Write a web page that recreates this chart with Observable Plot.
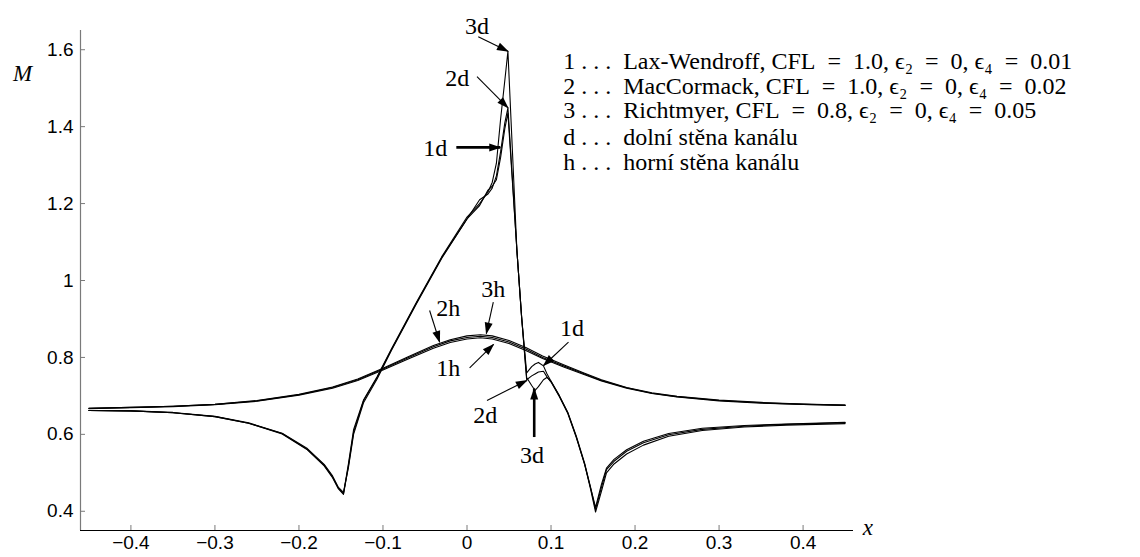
<!DOCTYPE html>
<html><head><meta charset="utf-8">
<script src="https://cdn.jsdelivr.net/npm/d3@7"></script>
<script src="https://cdn.jsdelivr.net/npm/@observablehq/plot@0.6"></script>
<style>body{margin:0;background:#fff}#chart{width:1140px;height:557px}</style>
</head><body><div id="chart"></div>
<script>
// ---- lower wall (d) curves: x grid and Mach values for schemes 1,2,3
const xD = [-0.45,-0.40,-0.35,-0.30,-0.26,-0.22,-0.19,-0.17,-0.16,-0.153,-0.147,-0.141,-0.135,-0.123,-0.107,-0.09,-0.06,-0.03,0.0,0.015,0.025,0.03,0.035,0.04,0.045,0.0487,0.0594,0.065,0.071,0.077,0.081,0.085,0.091,0.095,0.10,0.11,0.12,0.13,0.14,0.147,0.153,0.16,0.166,0.175,0.19,0.21,0.24,0.28,0.33,0.38,0.45];
const mD1 = [0.662,0.661,0.656,0.646,0.629,0.601,0.560,0.518,0.487,0.458,0.444,0.520,0.605,0.688,0.748,0.820,0.942,1.060,1.160,1.195,1.235,1.245,1.262,1.320,1.395,1.435,1.078,0.905,0.760,0.776,0.783,0.787,0.778,0.758,0.738,0.700,0.656,0.594,0.522,0.458,0.398,0.452,0.500,0.523,0.549,0.572,0.595,0.610,0.619,0.624,0.628];
const mD2 = [0.662,0.661,0.657,0.647,0.630,0.603,0.563,0.522,0.492,0.462,0.449,0.515,0.600,0.683,0.744,0.818,0.940,1.058,1.160,1.210,1.225,1.240,1.272,1.335,1.410,1.449,1.078,0.905,0.742,0.752,0.757,0.762,0.764,0.750,0.736,0.698,0.654,0.592,0.522,0.462,0.410,0.470,0.512,0.535,0.560,0.582,0.602,0.616,0.623,0.627,0.631];
const mD3 = [0.662,0.661,0.656,0.646,0.629,0.602,0.561,0.520,0.489,0.460,0.446,0.525,0.612,0.690,0.750,0.822,0.944,1.062,1.165,1.200,1.230,1.255,1.305,1.420,1.520,1.596,1.078,0.905,0.748,0.727,0.714,0.724,0.742,0.748,0.738,0.700,0.657,0.596,0.525,0.462,0.405,0.462,0.508,0.530,0.556,0.578,0.599,0.613,0.621,0.626,0.630];

// ---- upper wall (h) curves
const xH = [-0.45,-0.40,-0.35,-0.30,-0.25,-0.20,-0.16,-0.13,-0.10,-0.07,-0.04,-0.02,0.0,0.016,0.03,0.05,0.07,0.09,0.115,0.14,0.16,0.19,0.22,0.25,0.30,0.35,0.40,0.45];
const mH1 = [0.667,0.669,0.672,0.677,0.686,0.702,0.720,0.740,0.767,0.796,0.824,0.839,0.848,0.851,0.848,0.836,0.818,0.797,0.775,0.755,0.739,0.720,0.706,0.697,0.687,0.681,0.678,0.675];
const mH2 = [0.668,0.670,0.673,0.678,0.687,0.703,0.722,0.742,0.770,0.799,0.828,0.843,0.852,0.855,0.852,0.840,0.822,0.800,0.778,0.757,0.740,0.721,0.707,0.698,0.688,0.682,0.678,0.676];
const mH3 = [0.668,0.670,0.673,0.678,0.688,0.704,0.723,0.744,0.772,0.802,0.831,0.846,0.856,0.859,0.856,0.844,0.826,0.804,0.781,0.759,0.742,0.722,0.708,0.699,0.689,0.683,0.679,0.676];

// ---- axes
const xTicks = [-0.4,-0.3,-0.2,-0.1,0,0.1,0.2,0.3,0.4];
const yTicks = [0.4,0.6,0.8,1,1.2,1.4,1.6];
const xDomain = [-0.46, 0.46];
const yDomain = [0.35, 1.65];

// ---- legend
const legendLines = [
  "1 . . .  Lax-Wendroff, CFL\u2002=\u20021.0, ϵ₂\u2002=\u20020, ϵ₄\u2002=\u20020.01",
  "2 . . .  MacCormack, CFL\u2002=\u20021.0, ϵ₂\u2002=\u20020, ϵ₄\u2002=\u20020.02",
  "3 . . .  Richtmyer, CFL\u2002=\u20020.8, ϵ₂\u2002=\u20020, ϵ₄\u2002=\u20020.05",
  "d . . .  dolní stěna kanálu",
  "h . . .  horní stěna kanálu"
];
const legendX = 0.1145;
const legendY = [1.571, 1.506, 1.442, 1.372, 1.307];

// ---- annotations (data coordinates)
const labelText = ["3d","2d","1d","2h","3h","1h","1d","2d","3d"];
const labelX = [0.0119,-0.0115,-0.0377,-0.0222,0.0313,-0.0222,0.1249,0.0218,0.0773];
const labelY = [1.662,1.525,1.343,0.927,0.977,0.771,0.875,0.649,0.545];
const arrowX1 = [0.0134,0.0119,-0.0127,-0.0445,0.0313,0.0031,0.1208,0.0238,0.0800];
const arrowY1 = [1.634,1.530,1.346,0.922,0.944,0.773,0.840,0.688,0.593];
const arrowX2 = [0.0488,0.0488,0.0396,-0.0326,0.0230,0.0316,0.0911,0.0713,0.0800];
const arrowY2 = [1.596,1.449,1.346,0.840,0.862,0.834,0.779,0.740,0.719];
const arrowThick = [false,false,true,false,false,false,false,false,true];

// ---- build tables
const curves = [];
[["1d",xD,mD1],["2d",xD,mD2],["3d",xD,mD3],["1h",xH,mH1],["2h",xH,mH2],["3h",xH,mH3]].forEach(([s,xs,ys]) => {
  xs.forEach((x,i) => curves.push({series:s, x, y:ys[i]}));
});
const labels = labelText.map((t,i) => ({t, x:labelX[i], y:labelY[i]}));
const arrows = arrowX1.map((x1,i) => ({x1, y1:arrowY1[i], x2:arrowX2[i], y2:arrowY2[i], thick:arrowThick[i]}));
const legend = legendLines.map((t,i) => ({t, x:legendX, y:legendY[i]}));

function filledArrow(color) {
  const m = d3.create("svg:marker")
    .attr("viewBox","-11 -4 12 8")
    .attr("markerWidth",12).attr("markerHeight",8)
    .attr("markerUnits","userSpaceOnUse")
    .attr("orient","auto")
    .attr("overflow","visible")
    .attr("fill","black").attr("stroke","none");
  m.append("path").attr("d","M-11,-4L1,0L-11,4Z");
  return m.node();
}

const serif = "'Liberation Serif','Times New Roman',serif";
const sans = "'Liberation Sans',Arial,Helvetica,sans-serif";
const fmt = d3.format("~g");

const chart = Plot.plot({
  width: 1140, height: 557,
  marginLeft: 80, marginRight: 287, marginTop: 30, marginBottom: 27,
  x: {domain: xDomain, axis: null},
  y: {domain: yDomain, axis: null},
  style: {background: "white", overflow: "visible"},
  marks: [
    Plot.ruleX([xDomain[0]], {stroke: "#7a7a7a", strokeWidth: 1.2}),
    Plot.ruleY([yDomain[0]], {stroke: "black", strokeWidth: 1.2}),
    Plot.axisY(yTicks, {tickSize: -5, tickPadding: 12, stroke: "#7a7a7a", fill: "black", fontSize: 19, fontFamily: sans, tickFormat: fmt}),
    Plot.axisX(xTicks, {anchor: "bottom", tickSize: -5, tickPadding: 10, stroke: "#7a7a7a", fill: "black", fontSize: 19, fontFamily: sans, tickFormat: fmt}),
    Plot.line(curves, {x: "x", y: "y", z: "series", stroke: "black", strokeWidth: 1.1}),
    Plot.link(arrows.filter(d => !d.thick), {x1:"x1", y1:"y1", x2:"x2", y2:"y2", stroke:"black", strokeWidth: 1.1, markerEnd: filledArrow}),
    Plot.link(arrows.filter(d => d.thick), {x1:"x1", y1:"y1", x2:"x2", y2:"y2", stroke:"black", strokeWidth: 2.6, markerEnd: filledArrow}),
    Plot.text(labels, {x:"x", y:"y", text:"t", fontSize: 24, fontFamily: serif, fill: "black"}),
    Plot.text(legend, {x:"x", y:"y", text:"t", textAnchor: "start", fontSize: 24, fontFamily: serif, fill: "black"}),
    Plot.text(["M"], {x: -0.5288, y: 1.5377, text: d => d, fontSize: 23, fontStyle: "italic", fontFamily: serif, fill: "black"}),
    Plot.text(["x"], {x: 0.477, y: 0.358, text: d => d, fontSize: 23, fontStyle: "italic", fontFamily: serif, fill: "black"})
  ]
});
document.getElementById("chart").appendChild(chart);
</script></body></html>
